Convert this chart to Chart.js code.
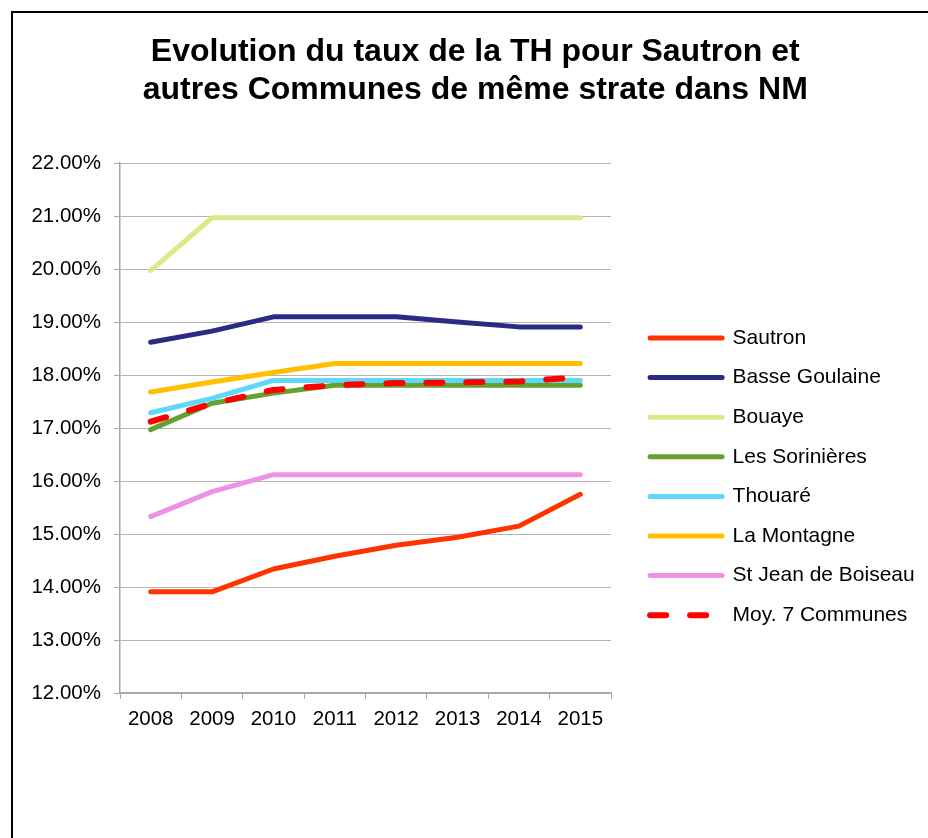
<!DOCTYPE html>
<html>
<head>
<meta charset="utf-8">
<script src="https://cdn.jsdelivr.net/npm/chart.js@4/dist/chart.umd.min.js"></script>
<style>
  html, body { margin: 0; padding: 0; background: #fff; overflow: hidden; }
  #frame {
    position: absolute; left: 11px; top: 11px;
    width: 930px; height: 840px;
    border-left: 2px solid #000; border-top: 2px solid #000;
  }
  #wrap { position: absolute; left: 0; top: 0; width: 915px; height: 825px; }
</style>
</head>
<body>
<div id="frame"><div id="wrap"><canvas id="thChart"></canvas></div></div>
<script>
const years = ['2008', '2009', '2010', '2011', '2012', '2013', '2014', '2015'];

const sautron       = [13.91, 13.91, 14.34, 14.58, 14.79, 14.94, 15.15, 15.75];
const basseGoulaine = [18.62, 18.83, 19.10, 19.10, 19.10, 19.00, 18.91, 18.91];
const bouaye        = [19.97, 20.97, 20.97, 20.97, 20.97, 20.97, 20.97, 20.97];
const sorinieres    = [16.97, 17.47, 17.66, 17.81, 17.81, 17.81, 17.81, 17.81];
const thouare       = [17.29, 17.56, 17.90, 17.90, 17.90, 17.90, 17.90, 17.90];
const laMontagne    = [17.68, 17.87, 18.05, 18.22, 18.22, 18.22, 18.22, 18.22];
const stJean        = [15.33, 15.80, 16.12, 16.12, 16.12, 16.12, 16.12, 16.12];
const moyenne       = [17.12, 17.46, 17.72, 17.81, 17.85, 17.86, 17.88, 17.96];

const seriesNames = ['Sautron', 'Basse Goulaine', 'Bouaye', 'Les Sorinières', 'Thouaré',
                     'La Montagne', 'St Jean de Boiseau', 'Moy. 7 Communes'];
const seriesValues = [sautron, basseGoulaine, bouaye, sorinieres, thouare, laMontagne, stJean, moyenne];
const seriesColors = ['#ff3300', '#2b2a86', '#d9ea8c', '#66a02e', '#5dd8f7', '#ffc000', '#ee92e8', '#ff0000'];

const yTicks = [12, 13, 14, 15, 16, 17, 18, 19, 20, 21, 22];

const FONT = '"Liberation Sans", Arial, sans-serif';
const axisGrey = '#a6a6a6';

const datasets = seriesNames.map((name, i) => ({
    label: name,
    data: seriesValues[i],
    borderColor: seriesColors[i],
    backgroundColor: seriesColors[i],
    borderWidth: i === 7 ? 6 : 5,
    borderDash: i === 7 ? [16, 24] : [],
    borderCapStyle: 'round',
    borderJoinStyle: 'round',
    pointRadius: 0,
    pointHoverRadius: 0,
    pointStyle: 'line',
    tension: 0,
    fill: false,
    order: -i   // later series drawn on top, like the original
}));

new Chart(document.getElementById('thChart').getContext('2d'), {
    type: 'line',
    data: { labels: years, datasets: datasets },
    options: {
        responsive: true,
        maintainAspectRatio: false,
        animation: false,
        layout: { padding: { left: 16, right: 6.5, top: 0, bottom: 0 } },
        plugins: {
            title: {
                display: true,
                text: ['Evolution du taux de la TH pour Sautron et', 'autres Communes de même strate dans NM'],
                color: '#000',
                font: { family: FONT, size: 32, weight: 'bold', lineHeight: 1.19 },
                padding: { top: 20.5, bottom: 53.5 }
            },
            legend: {
                position: 'right',
                align: 'center',
                maxWidth: 290,
                // empty title only pushes the items down
                title: { display: true, text: '', font: { size: 1 }, padding: { top: 50.5, bottom: 50.5 } },
                labels: {
                    usePointStyle: true,
                    pointStyleWidth: 72,
                    boxHeight: 5,
                    padding: 18.6,
                    color: '#000',
                    font: { family: FONT, size: 21 },
                    sort: (a, b) => a.datasetIndex - b.datasetIndex,
                    generateLabels: chart => {
                        const items = Chart.defaults.plugins.legend.labels.generateLabels(chart);
                        items.forEach(it => {
                            const ds = chart.data.datasets[it.datasetIndex];
                            it.lineDash = ds.borderDash;
                            it.lineCap = 'round';
                            it.lineWidth = ds.borderWidth;
                        });
                        return items;
                    }
                }
            },
            tooltip: { enabled: false }
        },
        scales: {
            x: {
                offset: true,
                grid: {
                    display: true, drawOnChartArea: false, drawTicks: true,
                    offset: true, tickLength: 6, tickColor: axisGrey
                },
                border: { display: true, color: axisGrey, width: 1.5 },
                ticks: { color: '#000', font: { family: FONT, size: 20.5 }, padding: 8, maxRotation: 0 },
                afterFit: s => { s.height = 145; }
            },
            y: {
                min: yTicks[0],
                max: yTicks[yTicks.length - 1],
                afterBuildTicks: s => { s.ticks = yTicks.map(v => ({ value: v })); },
                grid: {
                    color: '#b4b4b4', borderDash: [1, 1], lineWidth: 1,
                    tickLength: 6, tickColor: axisGrey, tickBorderDash: []
                },
                border: { display: true, color: axisGrey, width: 1.5 },
                ticks: {
                    color: '#000', font: { family: FONT, size: 20.5 }, padding: 13,
                    callback: v => v.toFixed(2) + '%'
                },
                afterFit: s => { s.width = 91; }
            },
            // empty axis used only as the gap between plot and legend
            gap: {
                position: 'right',
                display: true,
                grid: { display: false, drawTicks: false },
                border: { display: false },
                ticks: { display: false },
                afterFit: s => { s.width = 20.5; }
            }
        }
    }
});
</script>
</body>
</html>
